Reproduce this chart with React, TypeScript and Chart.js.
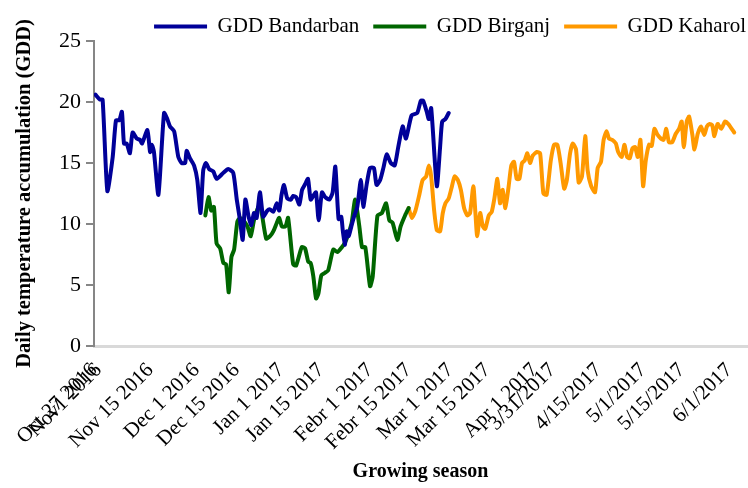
import React, { useEffect, useRef } from "react";
import { Chart, registerables } from "chart.js";

Chart.register(...registerables);

const FONT = '"Liberation Serif", "Times New Roman", serif';

const tickDays = [0, 1.5, 19, 34.5, 48, 63, 76.5, 93, 106, 120, 132.5, 148.5, 154.5, 170, 185, 198, 214];
const tickLabels = [
  "Oct 27 2016", "Nov1 2016", "Nov 15 2016", "Dec 1 2016", "Dec 15 2016", "Jan 1 2017",
  "Jan 15 2017", "Febr 1 2017", "Febr 15 2017", "Mar 1 2017", "Mar 15 2017", "Apr 1 2017",
  "3/31/2017", "4/15/2017", "5/1/2017", "5/15/2017", "6/1/2017",
];

const bandarbanDays = [0.5,2.0,2.9,4.5,6.3,7.4,8.5,9.4,10.1,11.0,12.1,13.0,14.4,15.5,16.2,18.0,18.9,19.5,20.2,21.7,23.6,24.7,25.6,27.0,28.4,29.5,30.7,31.2,32.3,33.7,34.8,35.9,36.8,37.7,38.8,40.2,41.3,43.6,45.2,46.9,48.1,49.2,50.1,51.0,52.1,53.0,53.9,54.8,55.9,57.0,58.4,59.3,60.4,61.6,62.4,63.2,64.0,65.1,66.3,67.1,68.1,69.2,70.1,71.2,72.1,73.0,74.1,74.8,75.7,76.8,77.9,79.3,80.4,81.3,82.4,83.3,83.8,84.5,85.1,85.8,86.7,87.6,88.7,89.9,90.7,91.9,93.0,94.3,95.2,96.4,97.5,98.6,100.0,101.3,102.5,104.0,105.1,107.0,108.9,110.1,110.9,112.1,112.8,113.6,115.5,116.6,117.3,118.4,119.5];
const bandarbanGdd = [20.6,20.2,20.2,12.7,15.5,18.5,18.5,19.2,16.6,16.6,15.8,17.5,17.0,16.9,16.6,17.7,15.9,16.5,15.9,12.4,19.1,18.6,18.0,17.6,15.5,15.0,15.0,16.0,15.4,14.8,13.6,10.9,14.4,15.0,14.5,14.3,13.7,14.2,14.5,14.2,12.0,10.3,8.7,12.0,10.6,9.9,10.9,10.5,12.6,10.6,11.1,11.2,11.0,11.7,11.1,12.4,13.2,12.1,12.0,12.3,12.2,11.6,12.8,13.3,13.7,12.0,12.4,12.6,10.3,12.6,12.2,12.0,12.6,14.7,10.4,10.6,9.5,8.3,9.4,9.0,9.8,10.6,11.4,13.6,11.4,13.3,14.6,14.6,13.2,13.6,14.6,15.7,15.0,14.8,16.3,18.0,17.0,18.9,19.1,20.1,20.1,19.2,18.6,19.5,13.1,16.3,18.4,18.6,19.1];

const birganjDays = [37.5,38.6,39.5,40.4,41.3,42.5,43.6,44.5,45.4,46.3,47.2,48.3,49.2,50.3,51.7,52.8,53.9,55.4,56.2,58.0,59.3,60.4,61.6,62.4,63.3,64.5,65.4,67.1,68.1,70.0,71.1,72.2,73.0,73.9,74.8,75.6,76.6,77.8,78.9,80.6,82.0,83.5,84.6,85.7,86.8,88.0,89.4,90.3,91.4,93.0,93.9,95.5,97.0,98.4,99.5,100.6,102.2,103.3,104.8,106.0];
const birganjGdd = [10.7,12.2,11.1,11.4,8.4,8.0,6.8,6.7,4.4,7.3,7.9,10.2,10.5,10.3,9.8,9.0,10.3,11.4,11.3,8.8,9.0,9.4,10.1,10.5,9.8,9.8,10.5,6.7,6.6,8.1,8.0,6.9,6.8,5.7,3.9,4.3,5.8,6.0,6.2,7.9,7.7,8.1,8.5,9.2,10.1,12.0,9.8,8.1,8.1,4.9,5.7,10.7,10.9,11.7,10.3,10.1,8.7,9.8,10.7,11.3];

const kaharolDays = [106.0,107.1,108.3,109.6,110.7,111.9,112.8,113.6,114.6,115.5,116.6,117.5,118.4,119.5,120.6,121.5,122.6,123.6,124.7,125.8,126.7,127.8,128.5,129.1,130.1,131.0,131.8,133.0,134.0,134.9,135.9,136.8,137.7,138.6,139.7,140.6,141.5,142.4,143.3,144.2,145.1,146.0,146.9,147.8,149.2,150.3,151.4,152.5,153.9,155.0,156.1,157.2,158.4,159.3,160.4,161.3,162.4,163.3,164.4,165.5,166.3,167.5,168.8,169.7,170.8,171.7,172.7,173.5,174.6,175.8,176.6,177.8,178.7,179.6,180.5,181.4,182.3,183.2,184.1,185.0,185.9,187.0,187.9,188.8,189.9,191.0,191.9,192.8,193.7,194.8,196.0,197.1,198.0,198.7,199.7,200.5,201.6,202.3,203.4,204.5,205.6,206.5,207.4,208.3,209.0,210.1,211.3,212.6,213.7,215.7];
const kaharolGdd = [11.3,10.5,11.1,12.4,13.6,13.9,14.8,13.9,11.1,9.5,9.4,10.9,11.7,12.1,13.1,13.9,13.6,12.8,11.3,10.7,10.9,13.1,10.9,9.0,10.9,9.8,9.6,10.7,11.0,12.1,13.7,11.7,12.8,11.3,13.1,14.8,15.1,13.7,13.7,15.0,15.2,15.8,15.0,15.6,15.9,15.8,12.5,12.4,15.2,16.5,16.5,15.0,12.9,13.6,15.8,16.6,16.1,13.4,13.9,17.2,14.4,13.1,12.6,14.6,15.1,16.9,17.6,17.0,16.9,16.6,15.9,15.5,16.5,15.5,15.4,16.2,16.3,15.5,16.9,13.1,15.2,16.5,16.4,17.8,17.3,17.0,16.9,17.8,16.7,16.7,17.4,17.8,18.4,16.3,18.4,18.8,17.3,16.1,17.4,18.0,17.3,18.0,18.2,18.1,17.2,18.2,17.8,18.4,18.2,17.5];

const toPoints = (days: number[], vals: number[]) => days.map((d, i) => ({ x: d, y: vals[i] }));

const legendTweak = {
  id: "legendTweak",
  beforeUpdate(chart: any) {
    const lg = chart.legend;
    if (lg && !lg._patched) {
      const orig = lg.fit.bind(lg);
      lg.fit = function () {
        orig();
        this.height = 41;
      };
      lg._patched = true;
    }
  },
  afterLayout(chart: any) {
    const lg = chart.legend;
    if (lg) {
      lg.left += 13;
      lg.right += 13;
      lg.top += 2;
      lg.bottom += 2;
    }
  },
};

export default function App() {
  const ref = useRef<HTMLCanvasElement | null>(null);

  useEffect(() => {
    document.body.style.margin = "0";
    const canvas = ref.current;
    if (!canvas) return;
    const line = (label: string, color: string, data: any[]) => ({
      label,
      data,
      borderColor: color,
      backgroundColor: color,
      borderWidth: 4,
      pointRadius: 0,
      pointStyle: "line",
      tension: 0.2,
      borderJoinStyle: "round",
      borderCapStyle: "round",
      fill: false,
    });
    const chart = new Chart(canvas, {
      type: "line",
      data: {
        datasets: [
          line("GDD Bandarban", "#000099", toPoints(bandarbanDays, bandarbanGdd)),
          line("GDD Birganj", "#006600", toPoints(birganjDays, birganjGdd)),
          line("GDD Kaharol", "#FF9900", toPoints(kaharolDays, kaharolGdd)),
        ] as any,
      },
      plugins: [legendTweak],
      options: {
        responsive: false,
        animation: false,
        layout: { padding: { left: 0, right: 1, top: 0, bottom: 0 } },
        plugins: {
          tooltip: { enabled: false },
          legend: {
            display: true,
            position: "top",
            align: "end",
            labels: {
              usePointStyle: true,
              pointStyleWidth: 53,
              color: "#000",
              padding: 14,
              font: { family: FONT, size: 21 },
            },
          },
        },
        scales: {
          x: {
            type: "linear",
            min: 0,
            max: 220,
            afterBuildTicks: (scale: any) => {
              scale.ticks = tickDays.map((v) => ({ value: v }));
            },
            afterFit: (scale: any) => {
              scale.height = 142;
              scale.paddingRight = 0;
              scale.paddingLeft = 0;
            },
            ticks: {
              autoSkip: false,
              maxRotation: 45,
              minRotation: 45,
              padding: 12,
              color: "#000",
              font: { family: FONT, size: 21 },
              callback: (value: any) => {
                const i = tickDays.indexOf(Number(value));
                return i >= 0 ? tickLabels[i] : "";
              },
            },
            grid: { display: false, drawTicks: false },
            border: { display: true, color: "#d9d9d9", width: 3 },
            title: {
              display: true,
              text: "Growing season",
              color: "#000",
              font: { family: FONT, size: 20, weight: "bold" },
              padding: { top: 0, bottom: 4 },
            },
          },
          y: {
            min: 0,
            max: 25,
            afterFit: (scale: any) => {
              scale.width = 94;
            },
            ticks: {
              stepSize: 5,
              padding: 5,
              color: "#000",
              font: { family: FONT, size: 22 },
            },
            grid: {
              display: true,
              drawOnChartArea: false,
              drawTicks: true,
              tickLength: 8,
              color: "#868686",
              lineWidth: 2,
            },
            border: { display: true, color: "#868686", width: 2 },
            title: {
              display: true,
              text: "Daily temperature accumulation (GDD)",
              color: "#000",
              font: { family: FONT, size: 20.5, weight: "bold" },
              padding: { top: 12, bottom: 0 },
            },
          },
        },
      } as any,
    });
    return () => chart.destroy();
  }, []);

  return (
    <div style={{ width: 748, height: 488 }}>
      <canvas ref={ref} width={748} height={488} style={{ width: 748, height: 488 }} />
    </div>
  );
}
